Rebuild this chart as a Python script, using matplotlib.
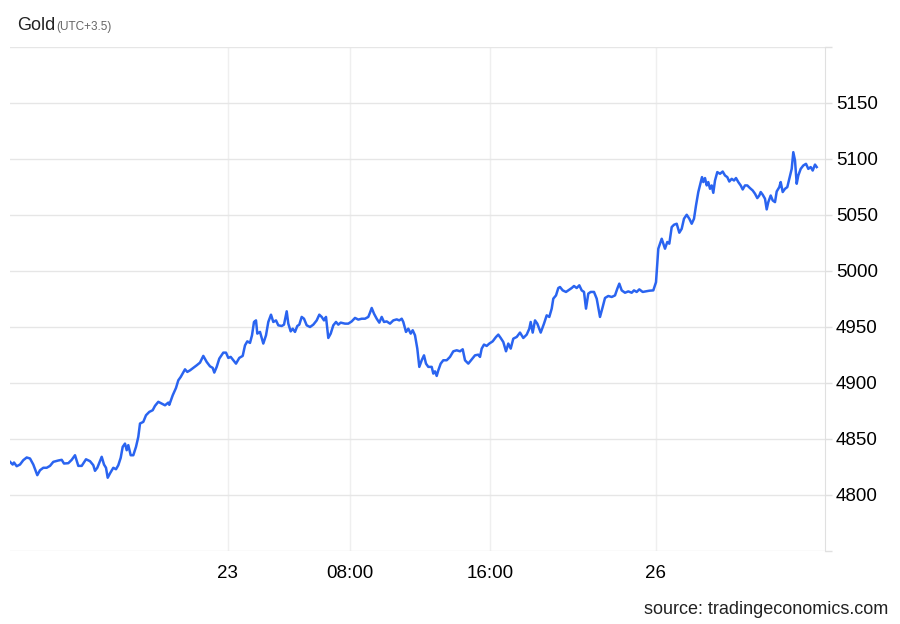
import matplotlib.pyplot as plt

plt.rcParams['font.family'] = ['Liberation Sans', 'DejaVu Sans']

# intraday bar position (elapsed bars) and gold price
t_22 = [0, 2.7, 4, 6.7, 10, 13.3, 16.7, 20, 23.3, 27.3, 30, 33.3, 36.7, 40, 43.3, 48.3,
        51.7, 54, 58.3, 61.7, 65, 68.3, 71.7, 76, 80, 83.3, 85, 87.3, 91.7, 94, 96, 97.7,
        100, 103.3, 106, 108.3, 110.7, 112.7, 115, 116.7, 118.3, 120.7, 123.3, 126, 128.3,
        130, 133.3, 136, 139.3, 142.7, 145, 148.3, 151.7, 155, 158.3,
        159.3, 162.7, 166, 168.3, 170.7, 175, 177.3, 180, 183.3, 186.7, 190, 193.3, 196.7,
        200, 202.7, 204.3, 206.7, 209.3, 213.3, 216]
p_22 = [4829.6, 4827.2, 4829, 4825.7, 4827.2, 4831.1, 4833.5, 4832.6, 4827.2, 4817.7,
        4822.1, 4824.3, 4824.3, 4826, 4829.6, 4830.8, 4831.4, 4828.1, 4828.4, 4831.4,
        4835.5, 4826, 4826, 4831.9, 4830.2, 4826.6, 4821.6, 4824.3, 4834.1, 4827.2,
        4824.3, 4815.4, 4819.3, 4824.3, 4823, 4826.6, 4833.2, 4843, 4845.9, 4840,
        4844.5, 4835.5, 4835.5, 4843, 4851.9, 4863.8, 4865.3, 4871.2, 4874.2, 4875.7,
        4879.6, 4883.2, 4881.6, 4880.1, 4882.5,
        4880.5, 4889, 4895.6, 4902.4, 4905.4, 4912.2, 4909.9, 4911.3, 4913.5, 4915.8,
        4918.2, 4924.2, 4918.8, 4914.9, 4913.5, 4909.3, 4914.4, 4921.8, 4927.1, 4927.1]

t_23 = [218.3, 220.7, 223.3, 226, 229.3, 232.7, 235, 237.3, 240, 242, 244, 246, 247.3,
        250, 253.3, 256, 258.3, 261, 263.3, 266, 268.3, 271.7, 274, 276.7, 278.3, 280.7,
        282.7, 285, 287.3, 289.3, 291.7, 294, 296.7, 300, 303.3, 306.7, 309.3, 311.7, 314,
        316, 318.3, 320.7, 323.3, 326, 328.3, 330.7, 335, 338.3, 341.7, 345, 348.3, 351.7,
        355, 358.3, 360, 361.7, 364, 366.7, 369.3, 371.7, 374, 376.7, 380, 383.3, 386.7,
        389.3, 391.7, 393.3, 396, 398.3, 400.7, 402.7, 405, 407.3, 409.3, 411.7, 414, 416,
        418.3, 421.7, 423.3, 425, 426.7, 428.3, 430.7, 433.3, 436.7, 440, 443.3, 446.7,
        450, 452.7, 455, 458.3, 461.7, 465, 468.3,
        470, 471.7, 474, 476.7, 479.3, 482.7, 486, 488.3, 490.7, 493.3, 496, 498.3, 500.7,
        503.3, 506.7, 510, 513.3, 516.7, 519.3, 520.7, 522.7, 525, 527.3, 530.7, 534,
        536.7, 539.3, 541.7, 543.3, 546, 548.3, 550, 552.7, 556, 558.3, 561.7, 564, 566.7,
        569.3, 571.7, 574, 576, 578.3, 580.7, 584, 586.7, 590, 592.7, 595, 598.3, 601.7,
        605, 607.3, 609.3, 611.7, 615, 618.3, 621.7, 624, 626.7, 629.3, 632.7, 636, 639.3,
        643.3]
p_23 = [4922.4, 4923.3, 4920.3, 4917.3, 4922.4, 4924.2, 4933.6, 4937.2, 4935.8, 4942.6,
        4954.5, 4955.9, 4944.1, 4945.6, 4935.2, 4942.6, 4954.5, 4961, 4954.5, 4955.9,
        4951.5, 4950.9, 4952.1, 4964, 4953, 4946.1, 4948.5, 4945.6, 4950.9, 4952.1,
        4959, 4957.4, 4951.5, 4950, 4952.1, 4955.9, 4961, 4959, 4955.9, 4959,
        4940.2, 4944.1, 4951.5, 4954.5, 4952.1, 4953.9, 4953, 4953, 4955, 4958.1,
        4956.6, 4957.4, 4957.4, 4959, 4962.8, 4967, 4961.9, 4957.4, 4953.9, 4959,
        4954.5, 4955, 4953, 4955.9, 4956.8, 4955.9, 4957.4, 4954.5, 4945.6, 4948.5,
        4944.1, 4947.1, 4942.6, 4930.7, 4914.4, 4920.3, 4924.7, 4917.3, 4914.4, 4914.4,
        4908.4, 4910.4, 4906.3, 4911.3, 4917.3, 4920.3, 4920.3, 4923.3, 4928.3, 4929.2,
        4928.3, 4930.1, 4920.3, 4917.3, 4921.1, 4924.7, 4925.3,
        4923.3, 4930.7, 4934.3, 4933.1, 4935.2, 4937.2, 4941.1, 4943.2, 4940.2, 4936.6,
        4928.3, 4935.2, 4930.7, 4939.6, 4941.1, 4945, 4940.2, 4943.2, 4948.5, 4954.5,
        4945, 4955.9, 4953, 4945, 4953, 4960.4, 4959, 4966.4, 4975.3, 4978.2,
        4984.8, 4985.7, 4982.7, 4981.3, 4982.7, 4984.8, 4986.6, 4984.8, 4987.2, 4982.7,
        4981.3, 4966.4, 4979.8, 4981.3, 4981.3, 4975.3, 4959, 4967.9, 4975.9, 4977.7,
        4976.8, 4978.2, 4984.2, 4988.7, 4982.7, 4980.6, 4981.8, 4980.6, 4982.7, 4981.3,
        4983.6, 4981.3, 4981.8, 4982.4, 4982.7]

t_26 = [646, 648.3, 650, 651.7, 653.3, 655, 657.3, 659.3, 661.7, 664, 666.7, 669.3, 671.7,
        674, 676.7, 679.3, 681.7, 684, 686, 688.3, 690.7, 692, 693.3, 695, 696.7, 698.3,
        700, 701.7, 703.3, 705, 707.3, 710, 712.7, 715, 717.3, 719.3, 721.7, 724, 726,
        728.3, 730.7, 732.7, 735, 737.3, 740, 742.7, 745, 747.3, 749.3, 750.7, 752.7, 755,
        756.7, 758.3, 760.7, 762.7, 765, 766.7, 769.3, 770.7, 772.7, 775, 777.3, 779.3,
        781.7, 783.3, 785, 786.7, 788.3, 790.7, 793.3, 796, 798.3, 800.7, 802.7, 805, 806.7]
p_26 = [4990, 5019.9, 5024.4, 5028.8, 5024.4, 5019.9, 5025.9, 5024.4, 5039.2, 5041.3,
        5042.2, 5034.2, 5037.7, 5046.7, 5050.2, 5046.7, 5042.2, 5046.7, 5058.5, 5070.5,
        5079.4, 5083.8, 5079.4, 5083, 5076.4, 5079.4, 5073.4, 5076.4, 5069.8, 5080.8,
        5088.3, 5086.8, 5088.8, 5085.3, 5083.8, 5079.9, 5082.3, 5080.8, 5083, 5079.4,
        5076.4, 5072.8, 5076.4, 5076.4, 5074, 5071.9, 5069, 5065.1, 5067.4, 5070.5,
        5068.1, 5064.5, 5055, 5061.5, 5067.4, 5063, 5061.5, 5071, 5074.9, 5079.4,
        5070.5, 5073.4, 5074.9, 5082.3, 5091.2, 5106.1, 5098.7, 5077.9, 5085.3, 5091.2,
        5094.2, 5095.7, 5091.2, 5092.8, 5089.7, 5095, 5092.8]

x_ticks = [217.5, 339.5, 480, 646]
x_labels = ['23', '08:00', '16:00', '26']
y_ticks = [4750, 4800, 4850, 4900, 4950, 5000, 5050, 5100, 5150, 5200]
y_labels = ['', '4800', '4850', '4900', '4950', '5000', '5050', '5100', '5150', '']

t = t_22 + t_23 + t_26
price = p_22 + p_23 + p_26

fig = plt.figure(figsize=(9, 6.24), dpi=100)
ax = fig.add_axes([10 / 900, 1 - 551 / 624, 815 / 900, 504 / 624])

ax.plot(t, price, color='#2a64f0', lw=1.8, solid_joinstyle='round')

ax.set_xlim(0, 815)
ax.set_ylim(4750, 5200)
ax.set_xticks(x_ticks)
ax.set_xticklabels(x_labels)
ax.set_yticks(y_ticks)
ax.set_yticklabels(y_labels)

ax.yaxis.tick_right()
ax.tick_params(axis='y', length=5, width=1, color='#e0e0e0', pad=3,
               labelsize=13.5, labelcolor='#000000')
ax.tick_params(axis='x', length=0, pad=10, labelsize=13.5, labelcolor='#000000')

ax.grid(axis='y', color='#e6e6e6', lw=1)
ax.grid(axis='x', color='#efefef', lw=1)
for s in ['top', 'left', 'bottom']:
    ax.spines[s].set_visible(False)
ax.spines['right'].set_color('#e0e0e0')

fig.text(17 / 900, 1 - 30 / 624, 'Gold', fontsize=13, color='#222222', va='baseline')
fig.text(56 / 900, 1 - 30 / 624, '(UTC+3.5)', fontsize=8.5, color='#666666', va='baseline')
fig.text(888 / 900, 1 - 609 / 624, 'source: tradingeconomics.com', fontsize=13,
         color='#222222', ha='right', va='center')

fig.savefig('out.png', dpi=100)
